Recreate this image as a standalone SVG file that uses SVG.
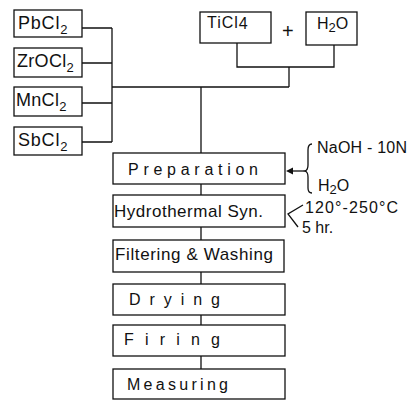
<svg xmlns="http://www.w3.org/2000/svg" width="412" height="401" viewBox="0 0 412 401">
<defs>
<style>
.box{fill:#fff;stroke:#111;stroke-width:1.3}
.ln{fill:none;stroke:#111;stroke-width:1.3}
.ah{fill:#111;stroke:none}
text{font-family:"Liberation Sans","DejaVu Sans",sans-serif;fill:#111}
.t{font-size:17px}
.c{font-size:18px}
.s{font-size:16px}
.sub{font-size:13px}
</style>
</defs>
<rect width="412" height="401" fill="#fff"/>
<g id="connectors">
<path class="ln" d="M82,28 H112 M82,63 H112 M82,103 H112 M82,142 H112 M112,28 V142 M112,87 H289"/>
<path class="ln" d="M237,43 V67 H334 V45 M289,67 V87"/>
<path class="ln" d="M201,87 V153 M201,184 V195 M201,227 V240 M201,272 V284 M201,315 V325 M201,356 V369"/>
<path class="ln" d="M306,171 H291"/>
<polygon class="ah" points="286,171 293,167.5 293,174.5"/>
<path class="ln" d="M312,144 Q308,144 308,150 L308,165 Q308,170 305,171 Q308,172 308,177 L308,188 Q308,193 312,193"/>
<path class="ln" d="M303,205 L288,214 L298,227"/>
</g>
<g id="pbcl2"><rect class="box" x="14" y="10" width="68" height="27"/><text class="c" x="18" y="29" letter-spacing="0.8">PbCl<tspan class="sub" dy="5">2</tspan></text></g>
<g id="zrocl2"><rect class="box" x="14" y="48" width="68" height="29"/><text class="c" x="17" y="67" letter-spacing="0.3">ZrOCl<tspan class="sub" dy="5">2</tspan></text></g>
<g id="mncl2"><rect class="box" x="14" y="87" width="68" height="29"/><text class="c" x="16" y="106" letter-spacing="0.3">MnCl<tspan class="sub" dy="5">2</tspan></text></g>
<g id="sbcl2"><rect class="box" x="14" y="127" width="68" height="28"/><text class="c" x="18" y="146" letter-spacing="0.8">SbCl<tspan class="sub" dy="5">2</tspan></text></g>
<g id="ticl4"><rect class="box" x="200" y="12" width="71" height="31"/><text class="s" x="207" y="28" letter-spacing="1">TiCl<tspan dy="1">4</tspan></text></g>
<text x="282" y="38" style="font-size:20px">+</text>
<g id="h2o"><rect class="box" x="306" y="12" width="51" height="33"/><text class="s" x="317" y="29">H<tspan class="sub" dy="3">2</tspan><tspan dy="-3">O</tspan></text></g>
<g id="preparation"><rect class="box" x="113" y="153" width="172" height="31"/><text class="s" x="128" y="175" textLength="130" lengthAdjust="spacing">Preparation</text></g>
<g id="hydro"><rect class="box" x="113" y="195" width="172" height="32"/><text class="t" x="114" y="217" textLength="149" lengthAdjust="spacing">Hydrothermal Syn.</text></g>
<g id="filtering"><rect class="box" x="113" y="240" width="171" height="32"/><text class="t" x="115" y="260" textLength="158" lengthAdjust="spacing">Filtering &amp; Washing</text></g>
<g id="drying"><rect class="box" x="113" y="284" width="172" height="31"/><text class="s" x="129" y="305" textLength="91" lengthAdjust="spacing">Drying</text></g>
<g id="firing"><rect class="box" x="113" y="325" width="172" height="31"/><text class="s" x="124" y="345" textLength="96" lengthAdjust="spacing">Firing</text></g>
<g id="measuring"><rect class="box" x="113" y="369" width="172" height="30"/><text class="s" x="127" y="390" textLength="101" lengthAdjust="spacing">Measuring</text></g>
<g id="labels">
<text class="s" x="317" y="153" textLength="90" lengthAdjust="spacing">NaOH - 10N</text>
<text class="s" x="318" y="191">H<tspan class="sub" dy="3">2</tspan><tspan dy="-3">O</tspan></text>
<text class="s" x="305" y="213" textLength="93" lengthAdjust="spacing">120°-250°C</text>
<text class="s" x="302" y="233">5 hr.</text>
</g>
</svg>
